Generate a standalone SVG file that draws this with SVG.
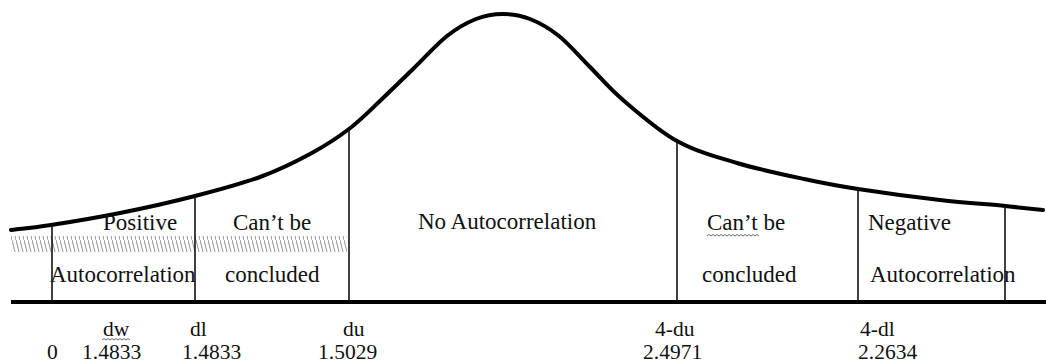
<svg xmlns="http://www.w3.org/2000/svg" width="1046" height="364" viewBox="0 0 1046 364">
<style>
.lbl{font-family:"Liberation Serif","Times New Roman",serif;font-size:23px;fill:#111}
.val{font-family:"Liberation Serif","Times New Roman",serif;font-size:21.5px;fill:#111}
.div{stroke:#111;stroke-width:1.6}
.wavy{fill:none;stroke:#666;stroke-width:1}
</style>
<defs>
<pattern id="hatch" patternUnits="userSpaceOnUse" width="4" height="16">
<line x1="0" y1="0" x2="4" y2="16" stroke="#808080" stroke-width="1"/>
</pattern>
</defs>
<rect width="1046" height="364" fill="#fff"/>
<rect x="11" y="236" width="336" height="16" fill="url(#hatch)" opacity="0.85"/>
<g id="connectors">
<path id="curve" d="M11,230 C17.7,229.2 32.8,227.8 51,225 C69.2,222.2 96,217.8 120,213 C144,208.2 171.7,202 195,196 C218.3,190 240.8,184 260,177 C279.2,170 295.2,162 310,154 C324.8,146 337,138.2 349,129 C361,119.8 371.2,109.2 382,99 C392.8,88.8 403.2,78.5 414,68 C424.8,57.5 436.7,44.2 447,36 C457.3,27.8 466.7,22.7 476,19 C485.3,15.3 494,14 503,14 C512,14 520.7,15.3 530,19 C539.3,22.7 549,28 559,36 C569,44 579.3,56.3 590,67 C600.7,77.7 608.5,87.7 623,100 C637.5,112.3 658,130.5 677,141 C696,151.5 715.8,156.7 737,163 C758.2,169.3 783.8,174.7 804,179 C824.2,183.3 835.3,185.5 858,189 C880.7,192.5 915.5,197.2 940,200 C964.5,202.8 987.8,204.3 1005,206 C1022.2,207.7 1036.7,209.3 1043,210" fill="none" stroke="#000" stroke-width="4" stroke-linecap="round"/>
<line id="axis" x1="11" y1="302" x2="1046" y2="302" stroke="#000" stroke-width="4"/>
<line class="div" x1="52" y1="224" x2="52" y2="302"/>
<line class="div" x1="195" y1="196" x2="195" y2="302"/>
<line class="div" x1="349" y1="129" x2="349" y2="302"/>
<line class="div" x1="677" y1="141" x2="677" y2="302"/>
<line class="div" x1="858" y1="189" x2="858" y2="302"/>
<line class="div" x1="1005" y1="206" x2="1005" y2="302"/>
</g>
<g id="region-positive">
<text class="lbl" x="103" y="230">Positive</text>
<text class="lbl" x="50" y="282">Autocorrelation</text>
</g>
<g id="region-inconclusive-left">
<text class="lbl" x="233" y="230">Can’t be</text>
<text class="lbl" x="225" y="282">concluded</text>
</g>
<g id="region-none">
<text class="lbl" x="418" y="229">No Autocorrelation</text>
</g>
<g id="region-inconclusive-right">
<text class="lbl" x="707" y="230">Can’t be</text>
<path class="wavy" d="M707,236 l2,-1.5 l2,1.5 l2,-1.5 l2,1.5 l2,-1.5 l2,1.5 l2,-1.5 l2,1.5 l2,-1.5 l2,1.5 l2,-1.5 l2,1.5 l2,-1.5 l2,1.5 l2,-1.5 l2,1.5 l2,-1.5 l2,1.5 l2,-1.5 l2,1.5 l2,-1.5 l2,1.5 l2,-1.5 l2,1.5 l2,-1.5 l2,1.5"/>
<text class="lbl" x="702" y="282">concluded</text>
</g>
<g id="region-negative">
<text class="lbl" x="868" y="230">Negative</text>
<text class="lbl" x="870" y="282">Autocorrelation</text>
</g>
<g id="axis-labels">
<text class="val" x="103" y="336">dw</text>
<path class="wavy" d="M102,340 l2,-1.5 l2,1.5 l2,-1.5 l2,1.5 l2,-1.5 l2,1.5 l2,-1.5 l2,1.5 l2,-1.5 l2,1.5 l2,-1.5 l2,1.5 l2,-1.5 l2,1.5"/>
<text class="val" x="190" y="336">dl</text>
<text class="val" x="343" y="336">du</text>
<text class="val" x="655" y="336">4-du</text>
<text class="val" x="860" y="336">4-dl</text>
<text class="val" x="47" y="359">0</text>
<text class="val" x="82" y="359">1.4833</text>
<text class="val" x="182" y="359">1.4833</text>
<text class="val" x="318" y="359">1.5029</text>
<text class="val" x="643" y="359">2.4971</text>
<text class="val" x="858" y="359">2.2634</text>
</g>
</svg>
